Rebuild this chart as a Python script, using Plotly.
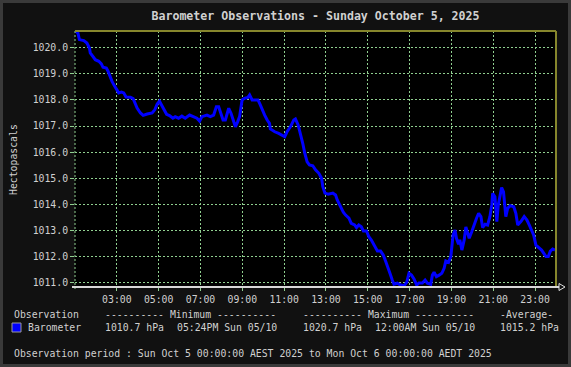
import plotly.graph_objects as go

# ---- data (hours elapsed since 00:00 AEST, pressure in hPa) ----
hours = [0.01, 0.14, 0.21, 0.42, 0.57, 0.69, 0.73, 0.85, 0.97, 1.14, 1.26, 1.34, 1.50, 1.58, 1.66, 1.77,
         1.90, 2.01, 2.09, 2.22, 2.33, 2.44, 2.65, 2.78, 2.86, 2.97, 3.13, 3.26, 3.45, 3.69, 3.82, 3.93,
         4.04, 4.17, 4.30, 4.38, 4.52, 4.68, 4.79, 4.95, 5.11, 5.27, 5.48, 5.67, 5.83, 5.96, 6.07, 6.31,
         6.47, 6.63, 6.76, 6.87, 6.95, 7.08, 7.19, 7.35, 7.46, 7.59, 7.67, 7.78, 7.87, 7.99, 8.10, 8.26,
         8.35, 8.47, 8.61, 8.75, 8.86, 8.95, 9.07, 9.19, 9.30, 9.34, 9.55, 9.74, 9.90, 10.03, 10.14, 10.30,
         10.46, 10.54, 10.67, 10.78, 10.89, 10.99, 11.10, 11.21, 11.37, 11.50, 11.66, 11.79, 11.85, 11.95,
         12.11, 12.33, 12.46, 12.54, 12.62, 12.73, 12.83, 12.94, 13.10, 13.21, 13.37, 13.46, 13.57, 13.69,
         13.79, 13.94, 14.05, 14.17, 14.29, 14.46, 14.61, 14.74, 14.85, 14.96, 15.06, 15.17, 15.25, 15.41,
         15.57, 15.73, 15.86, 15.97, 16.09, 16.21, 16.34, 16.45, 16.61, 16.74, 16.85, 17.01, 17.09, 17.17,
         17.28, 17.41, 17.54, 17.65, 17.73, 17.86, 17.97, 18.02, 18.08, 18.17, 18.24, 18.34, 18.40, 18.50,
         18.61, 18.69, 18.77, 18.85, 18.97, 19.09, 19.20, 19.30, 19.41, 19.49, 19.61, 19.73, 19.84, 19.93,
         19.97, 20.08, 20.12, 20.17, 20.24, 20.33, 20.40, 20.49, 20.56, 20.60, 20.69, 20.81, 20.98, 21.08,
         21.17, 21.32, 21.48, 21.61, 21.72, 21.84, 21.93, 22.04, 22.20, 22.31, 22.41, 22.52, 22.63, 22.73,
         22.84, 22.95]
pressure = [1020.65, 1020.56, 1020.31, 1020.27, 1020.18, 1019.99, 1019.80, 1019.67, 1019.54, 1019.48,
            1019.38, 1019.25, 1019.22, 1019.10, 1018.90, 1018.71, 1018.52, 1018.39, 1018.27, 1018.30,
            1018.27, 1018.11, 1018.10, 1018.05, 1017.88, 1017.69, 1017.50, 1017.41, 1017.46, 1017.50,
            1017.63, 1017.84, 1017.95, 1017.76, 1017.54, 1017.45, 1017.40, 1017.30, 1017.36, 1017.30,
            1017.38, 1017.30, 1017.42, 1017.36, 1017.30, 1017.19, 1017.36, 1017.42, 1017.36, 1017.42,
            1017.74, 1017.74, 1017.55, 1017.23, 1017.23, 1017.68, 1017.49, 1017.10, 1016.97, 1017.17,
            1017.36, 1018.00, 1018.06, 1018.09, 1018.19, 1018.00, 1018.00, 1018.00, 1017.81, 1017.61,
            1017.42, 1017.23, 1017.10, 1016.89, 1016.78, 1016.72, 1016.63, 1016.59, 1016.78, 1016.97,
            1017.23, 1017.27, 1017.04, 1016.72, 1016.34, 1015.95, 1015.63, 1015.51, 1015.48, 1015.32,
            1015.19, 1015.00, 1014.68, 1014.43, 1014.39, 1014.43, 1014.36, 1014.17, 1014.04, 1013.85,
            1013.70, 1013.59, 1013.47, 1013.27, 1013.21, 1013.11, 1013.21, 1013.14, 1012.98, 1012.98,
            1012.76, 1012.63, 1012.44, 1012.21, 1012.21, 1012.06, 1011.83, 1011.61, 1011.36, 1011.10,
            1010.94, 1010.98, 1010.91, 1010.88, 1011.01, 1011.36, 1011.29, 1011.14, 1010.91, 1010.99,
            1010.99, 1011.10, 1010.98, 1010.94, 1011.29, 1011.40, 1011.23, 1011.29, 1011.36, 1011.55,
            1011.83, 1011.78, 1012.00, 1012.38, 1012.83, 1013.02, 1012.70, 1012.47, 1012.64, 1012.25,
            1012.64, 1013.14, 1012.89, 1012.70, 1012.95, 1013.27, 1013.47, 1013.66, 1013.53, 1013.11,
            1013.24, 1013.21, 1013.53, 1013.98, 1014.42, 1014.29, 1013.72, 1013.34, 1013.98, 1014.42,
            1014.64, 1014.48, 1013.98, 1013.53, 1013.85, 1013.95, 1013.91, 1013.66, 1013.21, 1013.34,
            1013.53, 1013.40, 1013.21, 1012.98, 1012.83, 1012.44, 1012.34, 1012.25, 1012.13, 1012.00,
            1012.00, 1012.21, 1012.29, 1012.25]

x_tickvals = [2, 4, 6, 8, 10, 12, 14, 16, 18, 20, 22]
x_ticktext = ["03:00", "05:00", "07:00", "09:00", "11:00", "13:00", "15:00", "17:00", "19:00", "21:00", "23:00"]
y_tickvals = [1011, 1012, 1013, 1014, 1015, 1016, 1017, 1018, 1019, 1020]

title_text = "Barometer Observations - Sunday October 5, 2025"
y_title = "Hectopascals"
series_name = "Barometer"
summary_head = ["Observation", "---------- Minimum ----------", "---------- Maximum ----------", "-Average-"]
min_text = ["1010.7 hPa", "05:24PM Sun 05/10"]
max_text = ["1020.7 hPa", "12:00AM Sun 05/10"]
avg_text = "1015.2 hPa"
period_text = "Observation period : Sun Oct 5 00:00:00 AEST 2025 to Mon Oct 6 00:00:00 AEDT 2025"

# ---- geometry (pixels) ----
W, H = 571, 367
L, R, T, B = 75, 556, 31, 287
PW, PH = R - L, B - T

def px(x):
    return (x - L) / PW

def py(y):
    return (B - y) / PH

FONT = "DejaVu Sans Mono"
TXT = "#d0d0d0"
GRID = "#8fcf8f"
OLIVE = "#86862c"

fig = go.Figure()
fig.add_trace(go.Scatter(x=hours, y=pressure, mode="lines",
                         line=dict(color="#0000ff", width=3), name=series_name,
                         showlegend=False, hoverinfo="skip"))

fig.update_layout(
    width=W, height=H, autosize=False,
    margin=dict(l=L, r=W - R, t=T, b=H - B, pad=0),
    paper_bgcolor="#111111", plot_bgcolor="#000000",
    font=dict(family=FONT, size=9.8, color=TXT),
    title=dict(text=title_text, x=0.5, xanchor="center", xref="paper",
               y=1 - 15.5 / H, yref="container", yanchor="middle",
               font=dict(family=FONT, size=11.6, color=TXT, weight="bold")),
    showlegend=False,
)
fig.update_xaxes(range=[0, 23], tickvals=x_tickvals, ticktext=x_ticktext,
                 showgrid=True, gridcolor=GRID, griddash="2px,2px", gridwidth=1,
                 ticks="outside", ticklen=3, tickcolor=GRID, showline=False,
                 zeroline=False, tickfont=dict(family=FONT, size=9.8, color=TXT))
fig.update_yaxes(range=[1010.835, 1020.64], tickvals=y_tickvals, tickformat=".1f",
                 showgrid=True, gridcolor=GRID, griddash="2px,2px", gridwidth=1,
                 ticks="outside", ticklen=4, tickcolor=GRID, showline=False,
                 zeroline=False, tickfont=dict(family=FONT, size=9.8, color=TXT))

shapes = []
# outer frame
shapes.append(dict(type="rect", xref="paper", yref="paper",
                   x0=px(1.5), x1=px(W - 1.5), y0=py(H - 1.5), y1=py(1.5),
                   line=dict(color="#3a3a3a", width=3), layer="below"))
# left axis dotted
shapes.append(dict(type="line", xref="paper", yref="paper", x0=0, x1=0, y0=py(289), y1=1,
                   line=dict(color=GRID, width=1, dash="2px,2px")))
# top & right olive frame
shapes.append(dict(type="line", xref="paper", yref="paper", x0=0, x1=1, y0=1, y1=1,
                   line=dict(color=OLIVE, width=2)))
shapes.append(dict(type="line", xref="paper", yref="paper", x0=1, x1=1, y0=0, y1=1,
                   line=dict(color=OLIVE, width=2)))
# bottom axis
shapes.append(dict(type="line", xref="paper", yref="paper", x0=px(72), x1=px(559), y0=0, y1=0,
                   line=dict(color="#d8d8d8", width=2)))
# arrow head
shapes.append(dict(type="path", xref="paper", yref="paper",
                   path=f"M {px(559)} {py(283.5)} L {px(565)} {py(287)} L {px(559)} {py(290.5)} Z",
                   line=dict(color="#e0e0e0", width=1), fillcolor="#111111"))
# legend swatch
shapes.append(dict(type="rect", xref="paper", yref="paper",
                   x0=px(12), x1=px(21), y0=py(332), y1=py(323),
                   line=dict(color="#9a9a9a", width=1), fillcolor="#0000ff"))
fig.update_layout(shapes=shapes)

ann = []
def add_text(text, x, y, **kw):
    ann.append(dict(text=text, x=px(x), y=py(y), xref="paper", yref="paper",
                    xanchor="left", yanchor="middle", showarrow=False,
                    font=dict(family=FONT, size=9.8, color=TXT), **kw))

add_text(summary_head[0], 12, 314)
add_text(summary_head[1], 103, 314)
add_text(summary_head[2], 301, 314)
add_text(summary_head[3], 498, 314)
add_text(series_name, 26, 327.5)
add_text(min_text[0], 103, 327.5)
add_text(min_text[1], 174.5, 327.5)
add_text(max_text[0], 301, 327.5)
add_text(max_text[1], 372.5, 327.5)
add_text(avg_text, 498, 327.5)
add_text(period_text, 12, 353)
ann.append(dict(text=y_title, x=px(13), y=py(160), xref="paper", yref="paper",
                xanchor="center", yanchor="middle", showarrow=False, textangle=-90,
                font=dict(family=FONT, size=9.8, color=TXT)))
fig.update_layout(annotations=ann)

fig.write_html("out.html", config={"displayModeBar": False})
